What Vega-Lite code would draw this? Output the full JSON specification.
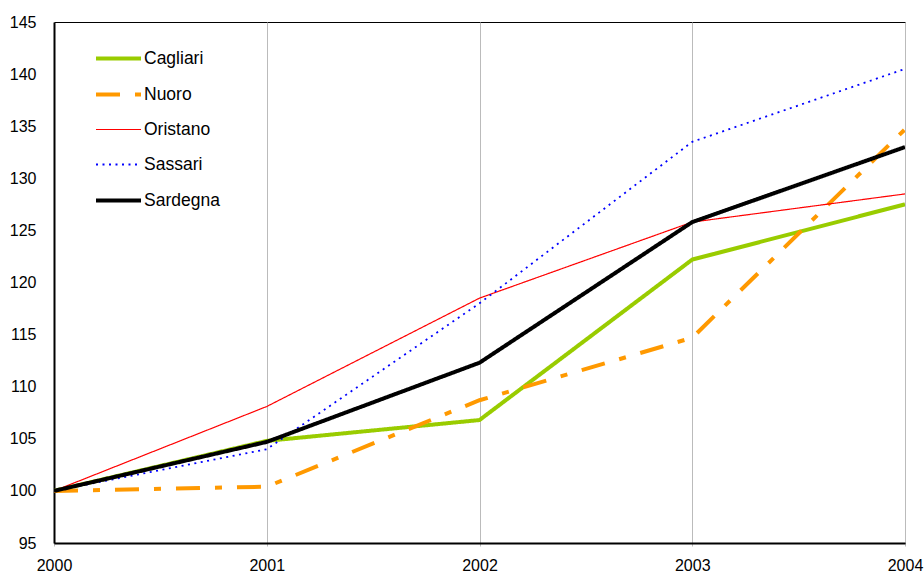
{
  "$schema": "https://vega.github.io/schema/vega-lite/v6.json",
  "width": 851,
  "height": 521,
  "autosize": {"type": "none"},
  "padding": {"left": 54, "top": 22, "right": 19, "bottom": 30},
  "background": "white",
  "config": {
    "view": {"stroke": "#000000", "strokeWidth": 1},
    "font": "Liberation Sans",
    "legend": {
      "title": null,
      "orient": "none",
      "legendX": 40,
      "legendY": 12,
      "symbolType": "stroke",
      "symbolSize": 2025,
      "labelFontSize": 17.5,
      "labelFont": "Liberation Sans",
      "labelColor": "#000000",
      "labelOffset": 1,
      "rowPadding": 3,
      "padding": 0
    }
  },
  "data": {
    "values": [
      {"city": "Cagliari", "year": 2000, "value": 100},
      {"city": "Cagliari", "year": 2001, "value": 104.8},
      {"city": "Cagliari", "year": 2002, "value": 106.8},
      {"city": "Cagliari", "year": 2003, "value": 122.2},
      {"city": "Cagliari", "year": 2004, "value": 127.5},
      {"city": "Nuoro", "year": 2000, "value": 100},
      {"city": "Nuoro", "year": 2001, "value": 100.4},
      {"city": "Nuoro", "year": 2002, "value": 108.7},
      {"city": "Nuoro", "year": 2003, "value": 114.7},
      {"city": "Nuoro", "year": 2004, "value": 134.7},
      {"city": "Oristano", "year": 2000, "value": 100},
      {"city": "Oristano", "year": 2001, "value": 108.1},
      {"city": "Oristano", "year": 2002, "value": 118.5},
      {"city": "Oristano", "year": 2003, "value": 125.8},
      {"city": "Oristano", "year": 2004, "value": 128.5},
      {"city": "Sassari", "year": 2000, "value": 100},
      {"city": "Sassari", "year": 2001, "value": 104.0},
      {"city": "Sassari", "year": 2002, "value": 118.0},
      {"city": "Sassari", "year": 2003, "value": 133.5},
      {"city": "Sassari", "year": 2004, "value": 140.5},
      {"city": "Sardegna", "year": 2000, "value": 100},
      {"city": "Sardegna", "year": 2001, "value": 104.7},
      {"city": "Sardegna", "year": 2002, "value": 112.3},
      {"city": "Sardegna", "year": 2003, "value": 125.8},
      {"city": "Sardegna", "year": 2004, "value": 133.0}
    ]
  },
  "mark": {"type": "line", "clip": true},
  "encoding": {
    "x": {
      "field": "year",
      "type": "quantitative",
      "scale": {"domain": [2000, 2004], "nice": false, "zero": false},
      "axis": {
        "title": null,
        "values": [2000, 2001, 2002, 2003, 2004],
        "format": "d",
        "grid": true,
        "gridColor": "#BBBBBB",
        "gridWidth": 1,
        "domainColor": "#000000",
        "domainWidth": 2,
        "tickColor": "#BBBBBB",
        "tickSize": 3,
        "labelPadding": 11,
        "labelFlush": false,
        "labelOverlap": false,
        "labelFontSize": 16,
        "labelColor": "#000000",
        "labelFont": "Liberation Sans"
      }
    },
    "y": {
      "field": "value",
      "type": "quantitative",
      "scale": {"domain": [95, 145], "nice": false, "zero": false},
      "axis": {
        "title": null,
        "values": [95, 100, 105, 110, 115, 120, 125, 130, 135, 140, 145],
        "grid": false,
        "ticks": false,
        "domainColor": "#000000",
        "domainWidth": 2,
        "labelPadding": 18,
        "labelFontSize": 16,
        "labelColor": "#000000",
        "labelFont": "Liberation Sans"
      }
    },
    "color": {
      "field": "city",
      "type": "nominal",
      "scale": {
        "domain": ["Cagliari", "Nuoro", "Oristano", "Sassari", "Sardegna"],
        "range": ["#99CC00", "#FF9900", "#FF0000", "#0000FF", "#000000"]
      }
    },
    "strokeDash": {
      "field": "city",
      "type": "nominal",
      "scale": {
        "domain": ["Cagliari", "Nuoro", "Oristano", "Sassari", "Sardegna"],
        "range": [[1, 0], [24, 15, 7, 15], [1, 0], [2, 4.5], [1, 0]]
      }
    },
    "strokeWidth": {
      "field": "city",
      "type": "ordinal",
      "scale": {
        "type": "ordinal",
        "domain": ["Cagliari", "Nuoro", "Oristano", "Sassari", "Sardegna"],
        "range": [4, 4, 1.2, 1.8, 4]
      }
    }
  }
}
